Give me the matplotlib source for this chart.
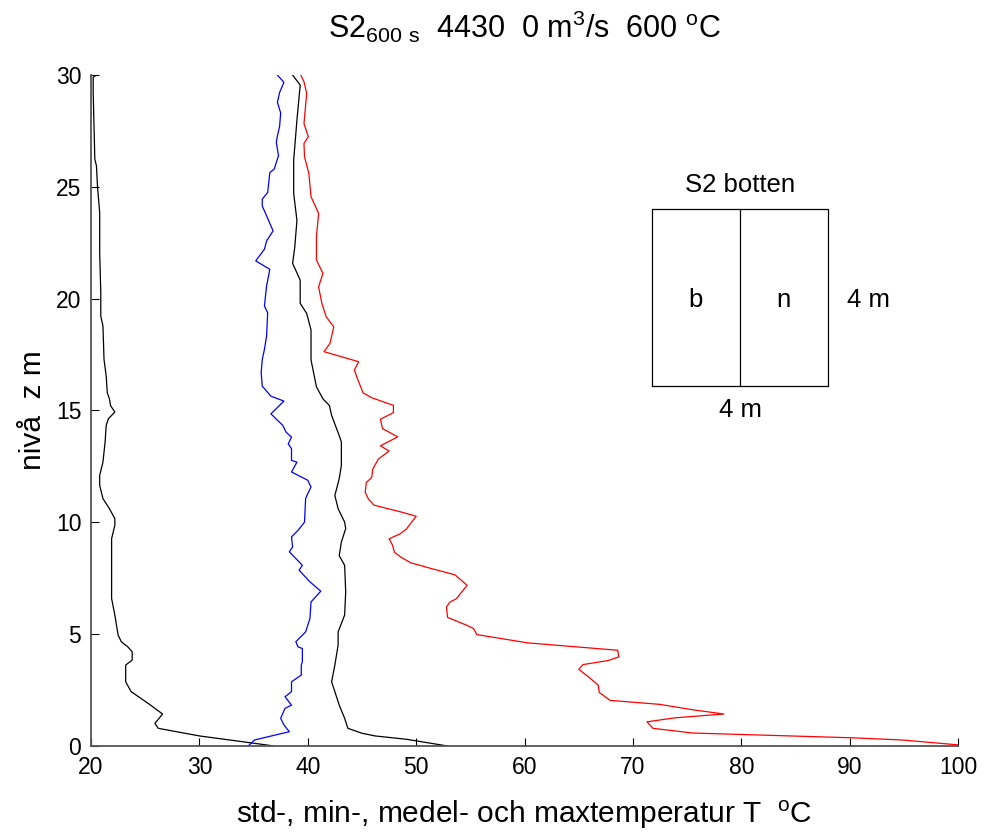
import matplotlib
matplotlib.use("Agg")
import matplotlib.pyplot as plt

plt.rcParams['font.family'] = ['Liberation Sans', 'DejaVu Sans']
plt.rcParams['mathtext.default'] = 'regular'

# std (black, left)
std_z = [0, 0.45, 0.79, 1.01, 1.43, 1.86, 2.13, 2.43, 2.87, 3.62, 3.84, 4.21, 4.43, 4.66,
         4.96, 5.85, 6.59, 9.27, 9.87, 10.16, 10.61, 11.06, 11.65, 12.10, 12.69, 13.59,
         14.33, 14.63, 14.93, 15.22, 15.52, 15.79, 16.54, 17.28, 18.78, 19.22, 20.27,
         22.06, 23.85, 25.0, 25.94, 26.24, 29.22, 29.9, 30]
std_t = [36.9, 30.0, 26.2, 25.9, 26.6, 25.4, 24.6, 23.7, 23.2, 23.2, 23.8, 23.8, 23.4, 22.8,
         22.5, 22.2, 21.9, 21.9, 22.2, 22.2, 21.7, 21.1, 20.8, 20.8, 21.1, 21.3,
         21.4, 21.6, 22.2, 21.8, 21.7, 21.5, 21.4, 21.2, 21.1, 20.9, 20.9,
         20.8, 20.8, 20.6, 20.5, 20.35, 20.2, 20.2, 20.5]

# min (blue)
min_z = [0, 0.27, 0.64, 0.94, 1.24, 1.68, 1.83, 2.20, 2.43, 2.87, 3.17, 3.62, 3.76, 4.36,
         4.43, 4.66, 5.10, 5.70, 6.44, 6.92, 7.34, 7.86, 8.08, 8.68, 8.90, 9.35, 9.64,
         10.01, 11.06, 11.28, 11.58, 11.88, 12.25, 12.69, 12.77, 13.29, 13.51, 13.81,
         14.03, 14.33, 14.85, 15.42, 15.64, 16.09, 16.69, 17.28, 17.73, 18.33, 19.37,
         19.67, 20.57, 21.31, 21.69, 22.21, 22.58, 23.03, 24.15, 24.45, 24.75, 25.64,
         25.79, 26.39, 26.99, 27.28, 27.7, 28.3, 28.78, 29.22, 29.67, 30]
min_t = [34.5, 35.1, 38.3, 37.8, 37.5, 37.9, 38.5, 37.9, 38.5, 38.5, 39.4, 39.4, 39.5, 39.5,
         39.1, 38.9, 39.8, 40.2, 40.3, 41.2, 40.2, 39.2, 39.5, 38.3, 38.6, 38.5, 39.1,
         39.7, 39.8, 40.0, 40.3, 40.0, 38.5, 39.0, 38.5, 38.5, 38.2, 38.5,
         38.0, 37.7, 36.6, 37.8, 36.6, 35.8, 35.7, 35.8, 36.0, 36.2, 36.3,
         36.0, 36.2, 36.5, 35.2, 36.0, 36.2, 36.8, 35.8, 35.8, 36.3, 36.5,
         36.9, 37.3, 37.1, 37.2, 37.4, 37.5, 37.2, 37.4, 37.8, 37.2]

# medel (black)
mean_z = [0, 0.30, 0.45, 0.57, 0.79, 1.24, 1.83, 2.43, 2.87, 3.62, 4.51, 5.10, 5.85, 6.89,
          8.08, 8.51, 9.12, 9.72, 10.01, 10.61, 11.2, 11.95, 12.54, 13.59, 13.88, 14.78,
          15.22, 15.52, 16.06, 17.26, 18.6, 19.34, 19.79, 20.83, 21.58, 22.3, 23.5, 24.7,
          26.2, 27.98, 29.55, 30]
mean_t = [52.9, 49.1, 46.2, 45.0, 43.7, 43.4, 42.9, 42.5, 42.2, 42.5, 42.8, 42.8, 43.4, 43.5,
          43.4, 42.9, 43.1, 43.5, 43.4, 42.8, 42.5, 42.9, 43.1, 43.1, 42.9, 42.2,
          42.0, 41.4, 40.8, 40.3, 40.3, 39.9, 39.3, 39.3, 38.6, 38.8, 39.0, 38.7,
          38.7, 39.0, 39.3, 38.6]

# max (red)
max_z = [0.05, 0.27, 0.37, 0.52, 0.58, 0.79, 1.08, 1.26, 1.43, 1.62, 1.86, 2.04, 2.39, 2.72,
         3.09, 3.43, 3.64, 3.82, 3.98, 4.28, 4.61, 4.98, 5.25, 5.39, 5.75, 6.21, 6.43,
         6.58, 7.18, 7.65, 7.92, 8.19, 8.44, 8.66, 9.0, 9.26, 9.48, 9.70, 10.27, 10.45,
         10.77, 11.04, 11.34, 11.78, 12.01, 12.38, 12.82, 13.19, 13.42, 13.82, 14.19,
         14.61, 14.90, 15.23, 15.57, 15.79, 16.4, 16.81, 17.18, 17.63, 18.0, 18.74,
         19.19, 19.79, 20.53, 21.13, 21.73, 22.77, 23.81, 24.56, 25.6, 26.34, 26.94,
         27.24, 27.83, 29.18, 29.7, 30]
max_t = [100, 94.8, 90.0, 79.6, 75.5, 71.85, 71.3, 73.9, 78.4, 75.5, 72.5, 67.9, 66.9, 66.8,
         65.9, 65.0, 65.4, 67.7, 68.7, 68.6, 60.3, 55.6, 55.3, 54.7, 52.9, 52.8, 53.1,
         53.7, 54.7, 53.6, 51.5, 49.5, 48.6, 48.0, 47.8, 47.5, 48.5, 49.1, 50.0, 48.7,
         46.1, 45.6, 45.3, 45.4, 45.9, 46.0, 46.5, 47.5, 46.7, 48.3, 46.9,
         46.7, 47.9, 47.9, 45.9, 45.1, 44.6, 44.3, 44.7, 41.5, 42.05, 42.4,
         41.7, 41.3, 41.0, 41.4, 40.8, 40.8, 41.0, 40.3, 40.1, 39.7, 39.65,
         40.05, 39.65, 39.9, 39.65, 39.35]

fig = plt.figure(figsize=(9.84, 8.38), dpi=100)
ax = fig.add_axes([0.0925, 0.1098, 0.8811, 0.8007])

lw = 0.9
ax.plot(std_t, std_z, color='black', lw=lw)
ax.plot(min_t, min_z, color='blue', lw=lw)
ax.plot(mean_t, mean_z, color='black', lw=lw)
ax.plot(max_t, max_z, color='red', lw=lw)

ax.set_xlim(20, 100)
ax.set_ylim(0, 30)
ax.set_xticks(range(20, 101, 10))
ax.set_yticks(range(0, 31, 5))
ax.spines['top'].set_visible(False)
ax.spines['right'].set_visible(False)
for s in ('left', 'bottom'):
    ax.spines[s].set_color('#555555')
    ax.spines[s].set_linewidth(1.3)
ax.tick_params(direction='in', length=6, width=0.8, labelsize=16.5, pad=7)

ax.set_title(r'S2$_{600\ s}$  4430  0 m$^3$/s  600 $^o$C', fontsize=22, pad=27)
ax.set_xlabel(r'std-, min-, medel- och maxtemperatur T  $^o$C', fontsize=21.5, labelpad=14)
ax.set_ylabel('nivå  z m', fontsize=21.5, labelpad=6)

# inset sketch of the bottom section
bx0, bx1, bxm, by0, by1 = 71.75, 88.0, 79.9, 16.1, 24.0
ax.plot([bx0, bx1, bx1, bx0, bx0], [by0, by0, by1, by1, by0], color='black', lw=lw)
ax.plot([bxm, bxm], [by0, by1], color='black', lw=lw)
fs = 18.5
ax.text(bxm, 25.1, 'S2 botten', ha='center', va='center', fontsize=fs)
ax.text(75.8, 19.95, 'b', ha='center', va='center', fontsize=fs)
ax.text(83.9, 19.95, 'n', ha='center', va='center', fontsize=fs)
ax.text(91.7, 19.95, '4 m', ha='center', va='center', fontsize=fs)
ax.text(bxm, 15.0, '4 m', ha='center', va='center', fontsize=fs)

fig.savefig('out.png', dpi=100)
